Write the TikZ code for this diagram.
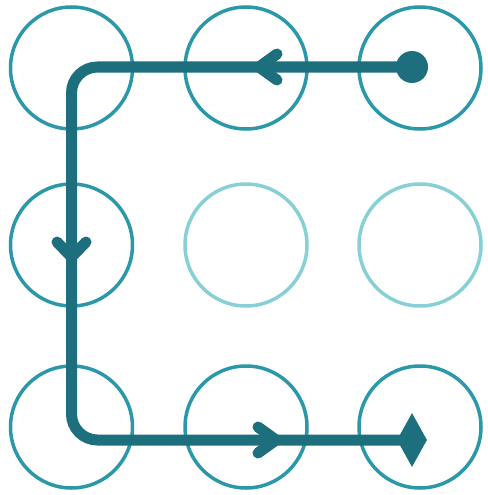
\documentclass[tikz,border=0pt]{standalone}
\usetikzlibrary{shapes.geometric}
\definecolor{ringc}{HTML}{2A98A8}
\definecolor{fadec}{HTML}{86D0D6}
\definecolor{pathc}{HTML}{1D6F7D}
\tikzset{
  x=1pt, y=-1pt,
  ring/.style={circle, draw=ringc, line width=3.5pt, minimum size=122pt, inner sep=0pt},
  fadering/.style={ring, draw=fadec},
  route/.style={draw=pathc, line width=11pt, rounded corners=26pt},
  chev/.style={draw=pathc, line width=11pt, line cap=round, line join=round},
}
\begin{document}
\begin{tikzpicture}
\useasboundingbox (0,0) rectangle (487,495);
% circles
\node[ring] (c11) at (71.5,68) {};
\node[ring] (c12) at (246,68) {};
\node[ring] (c13) at (420,68) {};
\node[ring] (c21) at (71.5,245) {};
\node[fadering] (c22) at (246,245) {};
\node[fadering] (c23) at (420,245) {};
\node[ring] (c31) at (71.5,427) {};
\node[ring] (c32) at (246,427) {};
\node[ring] (c33) at (420,427) {};
% route
\node[circle, fill=pathc, minimum size=32pt, inner sep=0pt] (start) at (412,67) {};
\node[diamond, fill=pathc, minimum width=30pt, minimum height=54pt, inner sep=0pt, aspect=0.55] (end) at (412,440) {};
\coordinate (k1) at (71.5,67);
\coordinate (k2) at (71.5,440);
\draw[route] (start.center) -- (k1) -- (k2) -- (end.center);
% direction chevrons
\draw[chev] (277,54) -- (259,67) -- (277,80);
\draw[chev] (57,242) -- (71.5,257) -- (86,242);
\draw[chev] (258,427) -- (276,440) -- (258,453);
\end{tikzpicture}
\end{document}
